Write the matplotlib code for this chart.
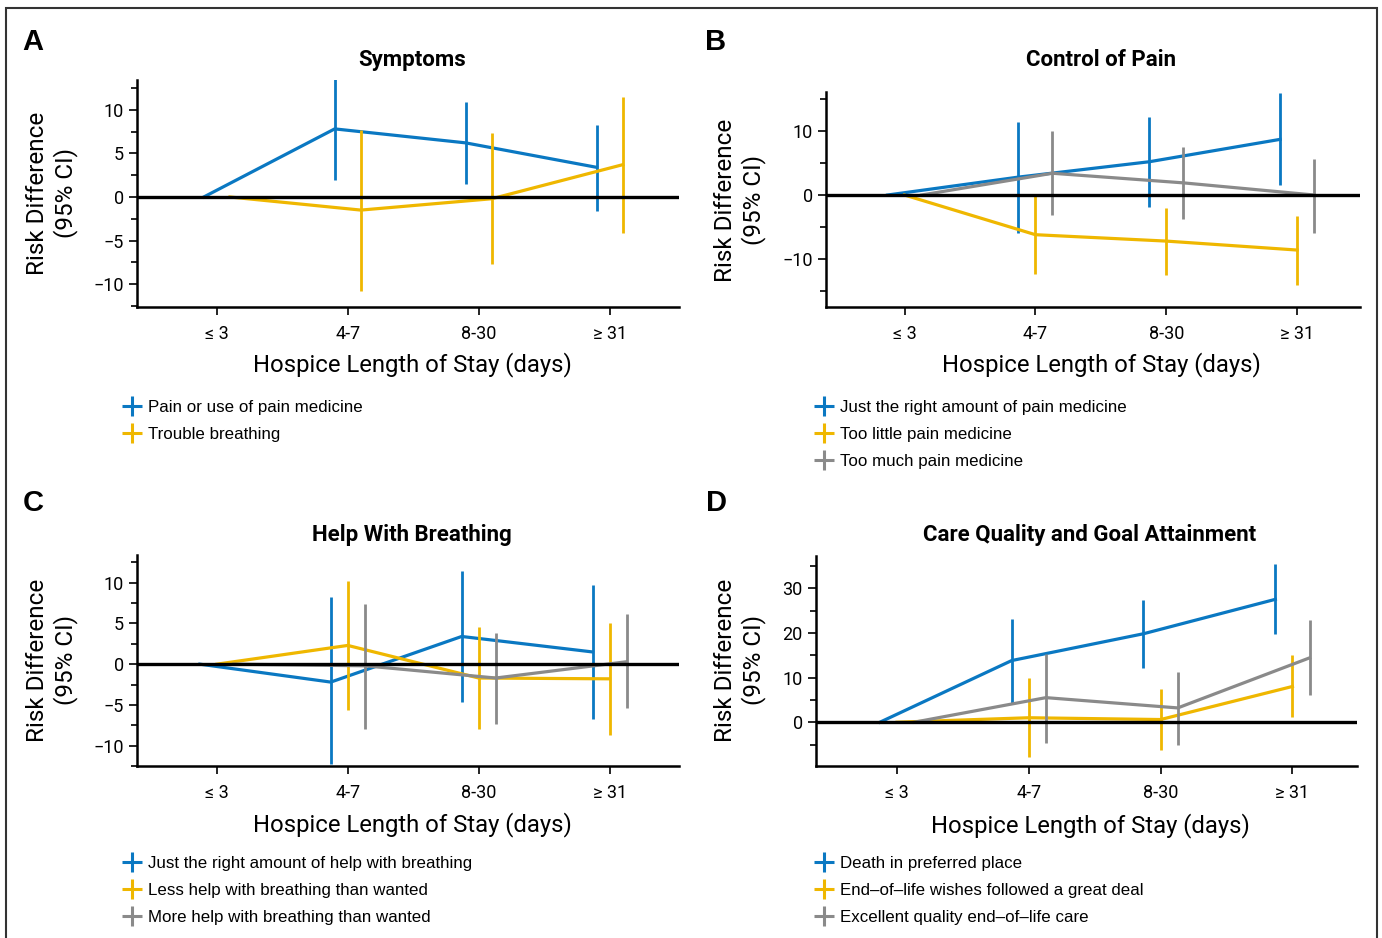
import matplotlib
matplotlib.use('agg')
import matplotlib.pyplot as plt
from matplotlib.lines import Line2D
from matplotlib.patches import Rectangle
from matplotlib.ticker import MultipleLocator
import numpy as np

plt.rcParams['font.family'] = ['Roboto', 'DejaVu Sans']
plt.rcParams['axes.unicode_minus'] = True

BLUE = '#0a78c2'
YELLOW = '#efb700'
GRAY = '#8a8a8a'

categories = ['\u2264 3', '4-7', '8-30', '\u2265 31']
nan = np.nan

# A - Symptoms
a_names = ['Pain or use of pain medicine', 'Trouble breathing']
a_est = [[0, 7.8, 6.2, 3.4], [0, -1.5, -0.2, 3.7]]
a_lo = [[nan, 1.9, 1.5, -1.6], [nan, -10.8, -7.7, -4.1]]
a_hi = [[nan, 13.7, 10.9, 8.3], [nan, 7.7, 7.3, 11.4]]

# B - Control of Pain
b_names = ['Just the right amount of pain medicine', 'Too little pain medicine',
           'Too much pain medicine']
b_est = [[0, 2.8, 5.2, 8.7], [0, -6.2, -7.2, -8.6], [0, 3.4, 1.9, 0.0]]
b_lo = [[nan, -6.0, -1.8, 1.5], [nan, -12.4, -12.5, -14.1], [nan, -3.2, -3.8, -5.9]]
b_hi = [[nan, 11.4, 12.2, 16.0], [nan, -0.1, -2.0, -3.3], [nan, 10.0, 7.5, 5.6]]

# C - Help With Breathing
c_names = ['Just the right amount of help with breathing',
           'Less help with breathing than wanted',
           'More help with breathing than wanted']
c_est = [[0, -2.2, 3.4, 1.5], [0, 2.3, -1.7, -1.8], [0, -0.2, -1.7, 0.3]]
c_lo = [[nan, -12.3, -4.7, -6.7], [nan, -5.6, -7.9, -8.7], [nan, -7.9, -7.3, -5.4]]
c_hi = [[nan, 8.2, 11.4, 9.7], [nan, 10.2, 4.6, 5.0], [nan, 7.4, 3.8, 6.1]]

# D - Care Quality and Goal Attainment
d_names = ['Death in preferred place', 'End\u2013of\u2013life wishes followed a great deal',
           'Excellent quality end\u2013of\u2013life care']
d_est = [[0, 13.8, 19.8, 27.5], [0, 1.0, 0.6, 8.0], [0, 5.5, 3.2, 14.4]]
d_lo = [[nan, 4.4, 12.1, 19.7], [nan, -7.7, -6.2, 1.2], [nan, -4.6, -5.1, 6.0]]
d_hi = [[nan, 23.2, 27.3, 35.3], [nan, 9.8, 7.5, 15.0], [nan, 15.2, 11.2, 22.8]]

W, H = 1382, 938
fig = plt.figure(figsize=(W / 100, H / 100), dpi=100)


def px_axes(l, t, r, b):
    return fig.add_axes([l / W, 1 - b / H, (r - l) / W, (b - t) / H])


def draw_panel(box, names, est, lo, hi, colors, ylim, major, minor, xlim,
               letter, letter_xy, title, title_xy, ylab_xy, xlab_xy, leg_xy):
    ax = px_axes(*box)
    n = len(names)
    offs = [-0.1, 0.1] if n == 2 else [-0.13, 0, 0.13]
    x = np.arange(len(categories))
    for i in range(n):
        xs = x + offs[i]
        ax.plot(xs, est[i], color=colors[i], lw=2.3, zorder=2)
        ax.vlines(xs, lo[i], hi[i], color=colors[i], lw=2.0, zorder=2)
    ax.axhline(0, color='black', lw=2.4, zorder=3)
    ax.set_xlim(*xlim)
    ax.set_ylim(*ylim)
    ax.set_xticks(x)
    ax.set_xticklabels(categories, fontsize=13)
    ax.yaxis.set_major_locator(MultipleLocator(major))
    ax.yaxis.set_minor_locator(MultipleLocator(minor))
    ax.tick_params(axis='y', labelsize=13, length=6, width=1.2)
    ax.tick_params(axis='y', which='minor', length=4, width=1.2)
    ax.tick_params(axis='x', length=6, width=1.2, pad=7)
    for s in ['top', 'right']:
        ax.spines[s].set_visible(False)
    for s in ['left', 'bottom']:
        ax.spines[s].set_linewidth(1.8)
    fig.text(letter_xy[0] / W, 1 - letter_xy[1] / H, letter, fontsize=21,
             fontweight='bold', family='Liberation Sans', ha='center', va='center')
    fig.text(title_xy[0] / W, 1 - title_xy[1] / H, title, fontsize=16,
             fontweight='bold', ha='center', va='center')
    fig.text(ylab_xy[0] / W, 1 - ylab_xy[1] / H, 'Risk Difference\n(95% CI)',
             fontsize=17.5, rotation=90, ha='center', va='center',
             multialignment='center', linespacing=1.25)
    fig.text(xlab_xy[0] / W, 1 - xlab_xy[1] / H, 'Hospice Length of Stay (days)',
             fontsize=17.2, ha='center', va='center')
    handles = [Line2D([], [], color=colors[i], marker='+', ls='none',
                      markersize=14, mew=2.2) for i in range(n)]
    fig.legend(handles, names, loc='upper left',
               bbox_to_anchor=(leg_xy[0] / W, 1 - leg_xy[1] / H),
               frameon=False, handletextpad=0.2, labelspacing=0.72,
               prop={'family': 'Liberation Sans', 'size': 12.2},
               borderaxespad=0, borderpad=0, handlelength=1.5)
    return ax


draw_panel((137, 80, 679, 307), a_names, a_est, a_lo, a_hi, [BLUE, YELLOW],
           (-12.6, 13.4), 5, 2.5, (-0.61, 3.53),
           'A', (33, 42), 'Symptoms', (412, 60), (52, 193), (412, 365), (119, 400))
draw_panel((826, 92, 1360, 307), b_names, b_est, b_lo, b_hi, [BLUE, YELLOW, GRAY],
           (-17.5, 16.1), 10, 5, (-0.60, 3.48),
           'B', (716, 42), 'Control of Pain', (1101, 60), (740, 200), (1101, 365), (811, 400))
draw_panel((137, 555, 679, 766), c_names, c_est, c_lo, c_hi, [BLUE, YELLOW, GRAY],
           (-12.5, 13.4), 5, 2.5, (-0.61, 3.53),
           'C', (33, 503), 'Help With Breathing', (412, 535), (52, 660), (412, 825), (119, 856))
draw_panel((816, 556, 1357, 766), d_names, d_est, d_lo, d_hi, [BLUE, YELLOW, GRAY],
           (-9.8, 37.2), 10, 5, (-0.615, 3.49),
           'D', (716, 503), 'Care Quality and Goal Attainment', (1090, 535), (740, 660),
           (1090, 826), (811, 856))

fig.patches.append(Rectangle((6 / W, -0.05), (1377 - 6) / W, 1.05 - 8 / H,
                             transform=fig.transFigure, fill=False,
                             edgecolor='#333333', lw=1.5))

fig.savefig('out.png', dpi=100)
